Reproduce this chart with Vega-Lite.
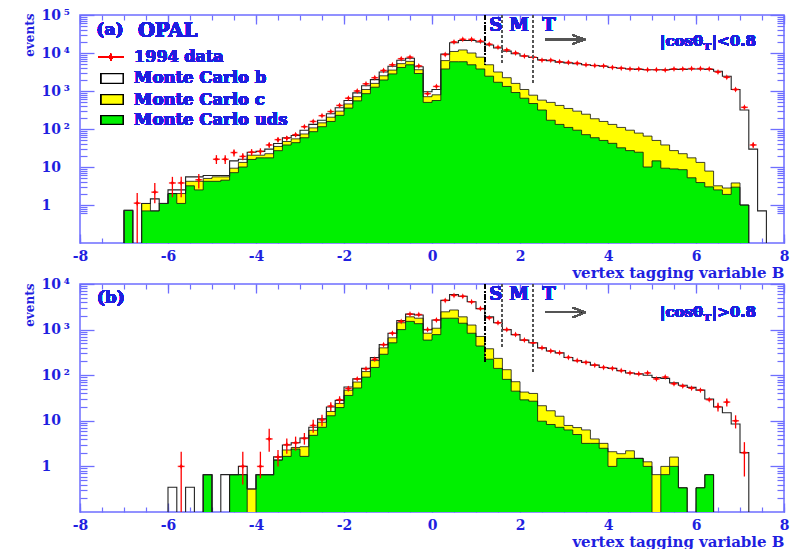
{
"$schema": "https://vega.github.io/schema/vega-lite/v6.json",
"background": "white",
"padding": {"left": 22, "top": 7, "right": 5, "bottom": 5},
"config": {"view": {"stroke": "#6e6eff", "strokeWidth": 1.5}, "text": {"font": "DejaVu Serif", "fontWeight": "bold", "color": "#1f1fe0"}},
"datasets": {
"top": [
{"B":-7.1,"uds":0.01,"udsc":0.01,"tot":0.01},
{"B":-6.9,"uds":0.72,"udsc":0.72,"tot":0.72},
{"B":-6.7,"uds":0.01,"udsc":0.01,"tot":0.01,"d":1.12,"dlo":0.01,"dhi":2.07},
{"B":-6.5,"uds":0.7,"udsc":1.1,"tot":1.1},
{"B":-6.3,"uds":0.7,"udsc":0.7,"tot":1.45,"d":2.18,"dlo":1.12,"dhi":3.8},
{"B":-6.1,"uds":1.1,"udsc":1.1,"tot":1.1},
{"B":-5.9,"uds":2.0,"udsc":2.0,"tot":2.5,"d":3.8,"dlo":1.6,"dhi":5.5},
{"B":-5.7,"uds":1.1,"udsc":2.0,"tot":2.5,"d":3.8,"dlo":1.6,"dhi":5.5},
{"B":-5.5,"uds":3.2,"udsc":4.2,"tot":5.5},
{"B":-5.3,"uds":2.5,"udsc":4.2,"tot":5.5,"d":4.6,"dlo":2.7,"dhi":6.5},
{"B":-5.1,"uds":4.2,"udsc":5.0,"tot":6.0},
{"B":-4.9,"uds":4.2,"udsc":5.5,"tot":6.0,"d":16,"dlo":12,"dhi":20.5},
{"B":-4.7,"uds":4.5,"udsc":5.5,"tot":6.0,"d":16,"dlo":12,"dhi":20.5},
{"B":-4.5,"uds":7.1,"udsc":9.3,"tot":14.5,"d":24,"dlo":19,"dhi":29},
{"B":-4.3,"uds":10,"udsc":13.2,"tot":16,"d":19,"dlo":15,"dhi":23},
{"B":-4.1,"uds":15.8,"udsc":20.4,"tot":24.5,"d":24.5,"dlo":20,"dhi":29.5},
{"B":-3.9,"uds":17.4,"udsc":20.4,"tot":25.7,"d":25.7,"dlo":21,"dhi":31},
{"B":-3.7,"uds":17.4,"udsc":22.4,"tot":29.5,"d":38,"dlo":32,"dhi":44},
{"B":-3.5,"uds":26.9,"udsc":34.7,"tot":41.7,"d":52.5,"dlo":45,"dhi":60},
{"B":-3.3,"uds":38,"udsc":46.8,"tot":58.9,"d":57.5,"dlo":50,"dhi":65},
{"B":-3.1,"uds":43.7,"udsc":55,"tot":67.6,"d":70.8,"dlo":62,"dhi":79},
{"B":-2.9,"uds":58.9,"udsc":74,"tot":93,"d":115},
{"B":-2.7,"uds":85,"udsc":107,"tot":132,"d":158},
{"B":-2.5,"uds":115,"udsc":145,"tot":170,"d":224},
{"B":-2.3,"uds":158,"udsc":204,"tot":251,"d":288},
{"B":-2.1,"uds":229,"udsc":295,"tot":363,"d":417},
{"B":-1.9,"uds":355,"udsc":457,"tot":562,"d":646},
{"B":-1.7,"uds":550,"udsc":708,"tot":891,"d":1000},
{"B":-1.5,"uds":851,"udsc":1096,"tot":1380,"d":1549},
{"B":-1.3,"uds":1259,"udsc":1585,"tot":1995,"d":2239},
{"B":-1.1,"uds":1950,"udsc":2512,"tot":3162,"d":3467},
{"B":-0.9,"uds":2818,"udsc":3548,"tot":4467,"d":4898},
{"B":-0.7,"uds":4169,"udsc":5248,"tot":6457,"d":7079},
{"B":-0.5,"uds":4898,"udsc":6026,"tot":7244,"d":7762},
{"B":-0.3,"uds":2884,"udsc":3631,"tot":4365,"d":4571},
{"B":-0.1,"uds":501,"udsc":708,"tot":955,"d":851},
{"B":0.1,"uds":562,"udsc":794,"tot":1096,"d":1318},
{"B":0.3,"uds":3802,"udsc":6310,"tot":9333,"d":9120},
{"B":0.5,"uds":5888,"udsc":10965,"tot":18621,"d":19498},
{"B":0.7,"uds":5888,"udsc":12023,"tot":21380,"d":22909},
{"B":0.9,"uds":4898,"udsc":10000,"tot":21380,"d":22909},
{"B":1.1,"uds":3802,"udsc":7762,"tot":19498,"d":20417},
{"B":1.3,"uds":2455,"udsc":4898,"tot":16218,"d":16982},
{"B":1.5,"uds":1698,"udsc":3162,"tot":13490,"d":14125},
{"B":1.7,"uds":1318,"udsc":2239,"tot":11220,"d":12023},
{"B":1.9,"uds":912,"udsc":1585,"tot":9550,"d":10000},
{"B":2.1,"uds":646,"udsc":1096,"tot":8318,"d":8318},
{"B":2.3,"uds":468,"udsc":776,"tot":7586,"d":7762},
{"B":2.5,"uds":316,"udsc":575,"tot":6607,"d":6457},
{"B":2.7,"uds":170,"udsc":501,"tot":6310,"d":6457},
{"B":2.9,"uds":132,"udsc":417,"tot":5754,"d":5888},
{"B":3.1,"uds":110,"udsc":347,"tot":5495,"d":5623},
{"B":3.3,"uds":93,"udsc":295,"tot":5248,"d":5370},
{"B":3.5,"uds":71,"udsc":245,"tot":4898,"d":4898},
{"B":3.7,"uds":59,"udsc":186,"tot":4677,"d":4677},
{"B":3.9,"uds":50,"udsc":158,"tot":4467,"d":4571},
{"B":4.1,"uds":42,"udsc":132,"tot":4169,"d":4169},
{"B":4.3,"uds":32,"udsc":110,"tot":3981,"d":3981},
{"B":4.5,"uds":27,"udsc":93,"tot":3802,"d":3802},
{"B":4.7,"uds":24.5,"udsc":78,"tot":3715,"d":3802},
{"B":4.9,"uds":10,"udsc":65,"tot":3631,"d":3631},
{"B":5.1,"uds":14.5,"udsc":50,"tot":3631,"d":3631},
{"B":5.3,"uds":9.3,"udsc":38,"tot":3631,"d":3548},
{"B":5.5,"uds":8.9,"udsc":27,"tot":3715,"d":3802},
{"B":5.7,"uds":8.5,"udsc":22.4,"tot":3715,"d":3802},
{"B":5.9,"uds":5.2,"udsc":17.4,"tot":3802,"d":3890},
{"B":6.1,"uds":3.9,"udsc":13.2,"tot":3802,"d":3890},
{"B":6.3,"uds":3.0,"udsc":7.8,"tot":3715,"d":3802},
{"B":6.5,"uds":2.5,"udsc":3.2,"tot":3311,"d":3162},
{"B":6.7,"uds":1.9,"udsc":2.8,"tot":2455,"d":2291},
{"B":6.9,"uds":2.95,"udsc":3.8,"tot":1096,"d":1096},
{"B":7.1,"uds":1.0,"udsc":1.0,"tot":316,"d":372},
{"B":7.3,"uds":0.01,"udsc":0.01,"tot":29.5,"d":38,"dlo":32,"dhi":44},
{"B":7.5,"uds":0.01,"udsc":0.01,"tot":0.7},
{"B":7.7,"uds":0.01,"udsc":0.01,"tot":0.01}
],
"bottom": [
{"B":-6.1,"uds":0.01,"udsc":0.01,"tot":0.01},
{"B":-5.9,"uds":0.01,"udsc":0.01,"tot":0.35},
{"B":-5.7,"uds":0.01,"udsc":0.01,"tot":0.01,"d":1,"dlo":0.01,"dhi":2.1},
{"B":-5.5,"uds":0.01,"udsc":0.01,"tot":0.35},
{"B":-5.3,"uds":0.01,"udsc":0.01,"tot":0.01},
{"B":-5.1,"uds":0.66,"udsc":0.66,"tot":0.66},
{"B":-4.9,"uds":0.01,"udsc":0.01,"tot":0.01},
{"B":-4.7,"uds":0.01,"udsc":0.01,"tot":0.66},
{"B":-4.5,"uds":0.66,"udsc":0.66,"tot":0.66},
{"B":-4.3,"uds":0.66,"udsc":0.66,"tot":1.0,"d":1,"dlo":0.4,"dhi":2.1},
{"B":-4.1,"uds":0.01,"udsc":0.32,"tot":0.32},
{"B":-3.9,"uds":0.66,"udsc":0.66,"tot":0.66,"d":1,"dlo":0.55,"dhi":2.1},
{"B":-3.7,"uds":0.66,"udsc":0.66,"tot":0.66,"d":4,"dlo":2.1,"dhi":6.7},
{"B":-3.5,"uds":1.38,"udsc":1.38,"tot":1.62,"d":1.6,"dlo":1.0,"dhi":2.3},
{"B":-3.3,"uds":1.66,"udsc":2.29,"tot":2.95,"d":3.0,"dlo":1.9,"dhi":4.1},
{"B":-3.1,"uds":2.4,"udsc":2.6,"tot":3.3,"d":3.3,"dlo":2.2,"dhi":4.5},
{"B":-2.9,"uds":1.66,"udsc":2.7,"tot":4.2,"d":4.1,"dlo":3.0,"dhi":5.4},
{"B":-2.7,"uds":4.8,"udsc":6.2,"tot":7.2,"d":7.9,"dlo":5.5,"dhi":10.5},
{"B":-2.5,"uds":7.2,"udsc":9.3,"tot":11,"d":10.5,"dlo":7.6,"dhi":13.5},
{"B":-2.3,"uds":12.9,"udsc":16,"tot":20,"d":21,"dlo":16.5,"dhi":25.5},
{"B":-2.1,"uds":19.5,"udsc":24,"tot":28,"d":29,"dlo":23.5,"dhi":34.5},
{"B":-1.9,"uds":36,"udsc":46.8,"tot":55,"d":51,"dlo":44,"dhi":58},
{"B":-1.7,"uds":52.5,"udsc":70.8,"tot":83,"d":83},
{"B":-1.5,"uds":91,"udsc":120,"tot":141,"d":138},
{"B":-1.3,"uds":148,"udsc":209,"tot":245,"d":224},
{"B":-1.1,"uds":288,"udsc":398,"tot":468,"d":468},
{"B":-0.9,"uds":513,"udsc":661,"tot":832,"d":832},
{"B":-0.7,"uds":1000,"udsc":1413,"tot":1585,"d":1514},
{"B":-0.5,"uds":1514,"udsc":1905,"tot":2188,"d":2188},
{"B":-0.3,"uds":1349,"udsc":1778,"tot":2089,"d":2138},
{"B":-0.1,"uds":589,"udsc":832,"tot":1000,"d":1000},
{"B":0.1,"uds":776,"udsc":1072,"tot":1622,"d":1622},
{"B":0.3,"uds":1778,"udsc":2455,"tot":4365,"d":4365},
{"B":0.5,"uds":1778,"udsc":2692,"tot":5888,"d":5623},
{"B":0.7,"uds":1380,"udsc":1905,"tot":5370,"d":5370},
{"B":0.9,"uds":832,"udsc":1259,"tot":4074,"d":4074},
{"B":1.1,"uds":437,"udsc":708,"tot":2884,"d":2884},
{"B":1.3,"uds":224,"udsc":380,"tot":1905,"d":1820},
{"B":1.5,"uds":141,"udsc":234,"tot":1413,"d":1413},
{"B":1.7,"uds":81,"udsc":132,"tot":1000,"d":1000},
{"B":1.9,"uds":44.7,"udsc":72,"tot":776,"d":776},
{"B":2.1,"uds":28.8,"udsc":42.7,"tot":589,"d":589},
{"B":2.3,"uds":26.9,"udsc":39.8,"tot":513,"d":513},
{"B":2.5,"uds":9.8,"udsc":21.4,"tot":398,"d":398},
{"B":2.7,"uds":8.3,"udsc":16.6,"tot":339,"d":339},
{"B":2.9,"uds":7.2,"udsc":12.6,"tot":309,"d":309},
{"B":3.1,"uds":6.3,"udsc":7.9,"tot":245,"d":245},
{"B":3.3,"uds":5.0,"udsc":7.1,"tot":209,"d":209},
{"B":3.5,"uds":3.2,"udsc":6.3,"tot":191,"d":191},
{"B":3.7,"uds":3.2,"udsc":4.0,"tot":166,"d":166},
{"B":3.9,"uds":2.5,"udsc":3.2,"tot":148,"d":148},
{"B":4.1,"uds":1.0,"udsc":2.1,"tot":141,"d":141},
{"B":4.3,"uds":1.5,"udsc":1.9,"tot":126,"d":126},
{"B":4.5,"uds":1.5,"udsc":2.2,"tot":112,"d":112},
{"B":4.7,"uds":1.5,"udsc":1.5,"tot":107,"d":107},
{"B":4.9,"uds":1.0,"udsc":1.26,"tot":100,"d":112},
{"B":5.1,"uds":0.01,"udsc":0.66,"tot":89,"d":83},
{"B":5.3,"uds":0.66,"udsc":1.0,"tot":85,"d":91},
{"B":5.5,"uds":1.0,"udsc":1.6,"tot":68,"d":65},
{"B":5.7,"uds":0.34,"udsc":0.34,"tot":60,"d":58},
{"B":5.9,"uds":0.01,"udsc":0.01,"tot":54,"d":52},
{"B":6.1,"uds":0.34,"udsc":0.34,"tot":47,"d":47},
{"B":6.3,"uds":0.66,"udsc":0.66,"tot":30,"d":29},
{"B":6.5,"uds":0.01,"udsc":0.01,"tot":20,"d":20.4,"dlo":16,"dhi":25},
{"B":6.7,"uds":0.01,"udsc":0.01,"tot":15,"d":25.7,"dlo":20.6,"dhi":30.8},
{"B":6.9,"uds":0.01,"udsc":0.01,"tot":8.5,"d":10,"dlo":6.8,"dhi":13.2},
{"B":7.1,"uds":0.01,"udsc":0.01,"tot":2.0,"d":2.0,"dlo":0.6,"dhi":3.4},
{"B":7.3,"uds":0.01,"udsc":0.01,"tot":0.01}
]
},
"spacing": 41,
"bounds": "flush",
"vconcat": [
{
"width": 704, "height": 228,
"data": {"name": "top"},
"resolve": {"axis": {"x": "independent", "y": "independent"}},
"layer": [
{"mark": {"type": "area", "interpolate": "step", "color": "#ffff00", "clip": true},
 "encoding": {
  "x": {"field": "B", "type": "quantitative", "scale": {"domain": [-8, 8]},
   "axis": {"orient": "bottom", "values": [-8,-6,-4,-2,0,2,4,6,8], "labelExpr": "datum.value < 0 ? '-' + (-datum.value) : '' + datum.value", "ticks": false, "domain": false, "grid": false, "labelPadding": 6, "labelFlush": false, "labelOverlap": false, "labelFont": "DejaVu Serif", "labelFontWeight": "bold", "labelFontSize": 14, "labelColor": "#1f1fe0", "title": "vertex tagging variable B", "titleFont": "DejaVu Serif", "titleFontWeight": "bold", "titleFontSize": 15, "titleColor": "#1f1fe0", "titleX": 704, "titleY": 29, "titleAlign": "right", "titleBaseline": "middle"}},
  "y": {"field": "udsc", "type": "quantitative", "scale": {"type": "log", "domain": [0.558, 100000]},
   "axis": {"orient": "left", "values": [1,10,100,1000,10000,100000], "labelExpr": "datum.value == 1 ? '\u20071' : datum.value == 10 ? '10' : datum.value == 100 ? '10\u2009²' : datum.value == 1000 ? '10\u2009³' : datum.value == 10000 ? '10\u2009⁴' : '10\u2009⁵'", "ticks": false, "domain": false, "grid": false, "labelAlign": "left", "labelPadding": 39, "labelFlush": false, "labelOverlap": false, "labelFont": "DejaVu Serif", "labelFontWeight": "bold", "labelFontSize": 14, "labelColor": "#1f1fe0", "title": "events", "titleFont": "DejaVu Serif", "titleFontWeight": "bold", "titleFontSize": 12, "titleColor": "#1f1fe0", "titleX": -51, "titleY": -2, "titleAngle": -90, "titleAlign": "right", "titleBaseline": "middle"}},
  "y2": {"datum": 0.01}}},
{"mark": {"type": "area", "interpolate": "step", "color": "#00f000", "clip": true},
 "encoding": {
  "x": {"field": "B", "type": "quantitative", "scale": {"domain": [-8, 8]},
   "axis": {"orient": "bottom", "values": [-8,-6,-4,-2,0,2,4,6,8], "labels": false, "domain": false, "grid": false, "tickSize": -9, "tickColor": "#6e6eff", "tickWidth": 1.3, "title": null}},
  "y": {"field": "uds", "type": "quantitative", "scale": {"type": "log", "domain": [0.558, 100000]},
   "axis": {"orient": "left", "values": [1,10,100,1000,10000,100000], "labels": false, "domain": false, "grid": false, "tickSize": -14, "tickColor": "#6e6eff", "tickWidth": 1.3, "title": null}},
  "y2": {"datum": 0.01}}},
{"mark": {"type": "line", "interpolate": "step", "color": "#111", "strokeWidth": 0.8, "clip": true},
 "encoding": {
  "x": {"field": "B", "type": "quantitative", "scale": {"domain": [-8, 8]},
   "axis": {"orient": "bottom", "values": [-8,-7.5,-7,-6.5,-6,-5.5,-5,-4.5,-4,-3.5,-3,-2.5,-2,-1.5,-1,-0.5,0,0.5,1,1.5,2,2.5,3,3.5,4,4.5,5,5.5,6,6.5,7,7.5,8], "labels": false, "domain": false, "grid": false, "tickSize": -5, "tickColor": "#6e6eff", "tickWidth": 1.2, "title": null}},
  "y": {"field": "udsc", "type": "quantitative", "scale": {"type": "log", "domain": [0.558, 100000]},
   "axis": {"orient": "left", "values": [0.6,0.7,0.8,0.9,2,3,4,5,6,7,8,9,20,30,40,50,60,70,80,90,200,300,400,500,600,700,800,900,2000,3000,4000,5000,6000,7000,8000,9000,20000,30000,40000,50000,60000,70000,80000,90000], "labels": false, "domain": false, "grid": false, "tickSize": -7, "tickColor": "#6e6eff", "tickWidth": 1.2, "title": null}}}},
{"mark": {"type": "line", "interpolate": "step", "color": "#111", "strokeWidth": 0.8, "clip": true},
 "encoding": {
  "x": {"field": "B", "type": "quantitative", "scale": {"domain": [-8, 8]},
   "axis": {"orient": "top", "values": [-8,-6,-4,-2,0,2,4,6,8], "labels": false, "domain": false, "grid": false, "tickSize": -9, "tickColor": "#6e6eff", "tickWidth": 1.3, "title": null}},
  "y": {"field": "uds", "type": "quantitative", "scale": {"type": "log", "domain": [0.558, 100000]},
   "axis": {"orient": "right", "values": [1,10,100,1000,10000,100000], "labels": false, "domain": false, "grid": false, "tickSize": -14, "tickColor": "#6e6eff", "tickWidth": 1.3, "title": null}}}},
{"mark": {"type": "line", "interpolate": "step", "color": "#222", "strokeWidth": 1.1, "clip": true},
 "encoding": {
  "x": {"field": "B", "type": "quantitative", "scale": {"domain": [-8, 8]},
   "axis": {"orient": "top", "values": [-8,-7.5,-7,-6.5,-6,-5.5,-5,-4.5,-4,-3.5,-3,-2.5,-2,-1.5,-1,-0.5,0,0.5,1,1.5,2,2.5,3,3.5,4,4.5,5,5.5,6,6.5,7,7.5,8], "labels": false, "domain": false, "grid": false, "tickSize": -5, "tickColor": "#6e6eff", "tickWidth": 1.2, "title": null}},
  "y": {"field": "tot", "type": "quantitative", "scale": {"type": "log", "domain": [0.558, 100000]},
   "axis": {"orient": "right", "values": [0.6,0.7,0.8,0.9,2,3,4,5,6,7,8,9,20,30,40,50,60,70,80,90,200,300,400,500,600,700,800,900,2000,3000,4000,5000,6000,7000,8000,9000,20000,30000,40000,50000,60000,70000,80000,90000], "labels": false, "domain": false, "grid": false, "tickSize": -7, "tickColor": "#6e6eff", "tickWidth": 1.2, "title": null}}}},
{"transform": [{"filter": "isValid(datum.dhi)"}],
 "mark": {"type": "rule", "color": "#ff0000", "strokeWidth": 1.3, "clip": true},
 "encoding": {
  "x": {"field": "B", "type": "quantitative", "scale": {"domain": [-8, 8]}, "axis": null},
  "y": {"field": "dlo", "type": "quantitative", "scale": {"type": "log", "domain": [0.558, 100000]}, "axis": null},
  "y2": {"field": "dhi"}}},
{"transform": [{"filter": "isValid(datum.d)"}],
 "mark": {"type": "tick", "orient": "horizontal", "size": 7, "thickness": 1.5, "color": "#ff0000", "clip": true},
 "encoding": {
  "x": {"field": "B", "type": "quantitative", "scale": {"domain": [-8, 8]}, "axis": null},
  "y": {"field": "d", "type": "quantitative", "scale": {"type": "log", "domain": [0.558, 100000]}, "axis": null}}},
{"transform": [{"filter": "isValid(datum.d)"}],
 "mark": {"type": "point", "shape": "M0,-1L0.3,-0.3L1,0L0.3,0.3L0,1L-0.3,0.3L-1,0L-0.3,-0.3Z", "size": 36, "filled": true, "color": "#ff0000", "opacity": 1, "clip": true},
 "encoding": {
  "x": {"field": "B", "type": "quantitative", "scale": {"domain": [-8, 8]}, "axis": null},
  "y": {"field": "d", "type": "quantitative", "scale": {"type": "log", "domain": [0.558, 100000]}, "axis": null}}},
{"mark": {"type": "rule", "color": "#000", "strokeWidth": 1.3, "strokeDash": [5, 2, 1.5, 2]},
 "encoding": {"x": {"datum": 1.2, "axis": null}, "y": {"datum": 100000, "axis": null}, "y2": {"datum": 4900}}},
{"mark": {"type": "rule", "color": "#555", "strokeWidth": 1, "strokeDash": [3, 2]},
 "encoding": {"x": {"datum": 1.6, "axis": null}, "y": {"datum": 100000, "axis": null}, "y2": {"datum": 4900}}},
{"mark": {"type": "rule", "color": "#555", "strokeWidth": 1, "strokeDash": [3, 2]},
 "encoding": {"x": {"datum": 2.3, "axis": null}, "y": {"datum": 100000, "axis": null}, "y2": {"datum": 1440}}},
{"mark": {"type": "text", "text": "S", "fontSize": 18, "baseline": "middle"},
 "encoding": {"x": {"datum": 1.45, "axis": null}, "y": {"datum": 52900, "axis": null}}},
{"mark": {"type": "text", "text": "M", "fontSize": 18, "baseline": "middle"},
 "encoding": {"x": {"datum": 1.98, "axis": null}, "y": {"datum": 52900, "axis": null}}},
{"mark": {"type": "text", "text": "T", "fontSize": 18, "baseline": "middle"},
 "encoding": {"x": {"datum": 2.66, "axis": null}, "y": {"datum": 52900, "axis": null}}},
{"mark": {"type": "rule", "color": "#555", "strokeWidth": 1.3},
 "encoding": {"x": {"datum": 2.57, "axis": null}, "x2": {"datum": 3.48}, "y": {"datum": 22650, "axis": null}}},
{"mark": {"type": "rule", "color": "#555", "strokeWidth": 1.3},
 "encoding": {"x": {"datum": 3.2, "axis": null}, "x2": {"datum": 3.48}, "y": {"datum": 29450, "axis": null}, "y2": {"datum": 22650}}},
{"mark": {"type": "rule", "color": "#555", "strokeWidth": 1.3},
 "encoding": {"x": {"datum": 3.2, "axis": null}, "x2": {"datum": 3.48}, "y": {"datum": 17400, "axis": null}, "y2": {"datum": 22650}}},
{"mark": {"type": "text", "text": "|cosθ", "fontSize": 15, "align": "right", "baseline": "middle"},
 "encoding": {"x": {"datum": 6.16, "axis": null}, "y": {"datum": 20400, "axis": null}}},
{"mark": {"type": "text", "text": "T", "fontSize": 10, "align": "left", "baseline": "middle", "dy": 6},
 "encoding": {"x": {"datum": 6.17, "axis": null}, "y": {"datum": 20400, "axis": null}}},
{"mark": {"type": "text", "text": "|<0.8", "fontSize": 15, "align": "left", "baseline": "middle"},
 "encoding": {"x": {"datum": 6.36, "axis": null}, "y": {"datum": 20400, "axis": null}}},
{"mark": {"type": "text", "text": "(a)", "fontSize": 17, "align": "center", "baseline": "middle"},
 "encoding": {"x": {"datum": -7.32, "axis": null}, "y": {"datum": 40700, "axis": null}}},
{"mark": {"type": "text", "text": "OPAL", "fontSize": 19.5, "align": "left", "baseline": "middle"},
 "encoding": {"x": {"datum": -6.68, "axis": null}, "y": {"datum": 38500, "axis": null}}},
{"mark": {"type": "rule", "color": "#ff0000", "strokeWidth": 1.3},
 "encoding": {"x": {"datum": -7.59, "axis": null}, "x2": {"datum": -7.0}, "y": {"datum": 7830, "axis": null}}},
{"mark": {"type": "point", "shape": "M0,-1L0.3,-0.3L1,0L0.3,0.3L0,1L-0.3,0.3L-1,0L-0.3,-0.3Z", "size": 60, "filled": true, "color": "#ff0000", "opacity": 1},
 "encoding": {"x": {"datum": -7.3, "axis": null}, "y": {"datum": 7830, "axis": null}}},
{"mark": {"type": "text", "text": "1994 data", "fontSize": 16, "align": "left", "baseline": "middle"},
 "encoding": {"x": {"datum": -6.77, "axis": null}, "y": {"datum": 7830, "axis": null}}},
{"mark": {"type": "rect", "fill": "#ffffff", "stroke": "#000", "strokeWidth": 1.3},
 "encoding": {"x": {"datum": -7.52, "axis": null}, "x2": {"datum": -7.02}, "y": {"datum": 2860, "axis": null}, "y2": {"datum": 1596}}},
{"mark": {"type": "text", "text": "Monte Carlo b", "fontSize": 16.5, "align": "left", "baseline": "middle"},
 "encoding": {"x": {"datum": -6.77, "axis": null}, "y": {"datum": 2193, "axis": null}}},
{"mark": {"type": "rect", "fill": "#ffff00", "stroke": "#000", "strokeWidth": 1.3},
 "encoding": {"x": {"datum": -7.52, "axis": null}, "x2": {"datum": -7.02}, "y": {"datum": 800, "axis": null}, "y2": {"datum": 446}}},
{"mark": {"type": "text", "text": "Monte Carlo c", "fontSize": 16.5, "align": "left", "baseline": "middle"},
 "encoding": {"x": {"datum": -6.77, "axis": null}, "y": {"datum": 582, "axis": null}}},
{"mark": {"type": "rect", "fill": "#00f000", "stroke": "#000", "strokeWidth": 1.3},
 "encoding": {"x": {"datum": -7.52, "axis": null}, "x2": {"datum": -7.02}, "y": {"datum": 224, "axis": null}, "y2": {"datum": 132}}},
{"mark": {"type": "text", "text": "Monte Carlo uds", "fontSize": 16.5, "align": "left", "baseline": "middle"},
 "encoding": {"x": {"datum": -6.77, "axis": null}, "y": {"datum": 172, "axis": null}}}
]
},
{
"width": 704, "height": 228,
"data": {"name": "bottom"},
"resolve": {"axis": {"x": "independent", "y": "independent"}},
"layer": [
{"mark": {"type": "area", "interpolate": "step", "color": "#ffff00", "clip": true},
 "encoding": {
  "x": {"field": "B", "type": "quantitative", "scale": {"domain": [-8, 8]},
   "axis": {"orient": "bottom", "values": [-8,-6,-4,-2,0,2,4,6,8], "labelExpr": "datum.value < 0 ? '-' + (-datum.value) : '' + datum.value", "ticks": false, "domain": false, "grid": false, "labelPadding": 6, "labelFlush": false, "labelOverlap": false, "labelFont": "DejaVu Serif", "labelFontWeight": "bold", "labelFontSize": 14, "labelColor": "#1f1fe0", "title": "vertex tagging variable B", "titleFont": "DejaVu Serif", "titleFontWeight": "bold", "titleFontSize": 15, "titleColor": "#1f1fe0", "titleX": 704, "titleY": 29, "titleAlign": "right", "titleBaseline": "middle"}},
  "y": {"field": "udsc", "type": "quantitative", "scale": {"type": "log", "domain": [0.125, 10000]},
   "axis": {"orient": "left", "values": [1,10,100,1000,10000], "labelExpr": "datum.value == 1 ? '\u20071' : datum.value == 10 ? '10' : datum.value == 100 ? '10\u2009²' : datum.value == 1000 ? '10\u2009³' : '10\u2009⁴'", "ticks": false, "domain": false, "grid": false, "labelAlign": "left", "labelPadding": 39, "labelFlush": false, "labelOverlap": false, "labelFont": "DejaVu Serif", "labelFontWeight": "bold", "labelFontSize": 14, "labelColor": "#1f1fe0", "title": "events", "titleFont": "DejaVu Serif", "titleFontWeight": "bold", "titleFontSize": 12, "titleColor": "#1f1fe0", "titleX": -51, "titleY": -1, "titleAngle": -90, "titleAlign": "right", "titleBaseline": "middle"}},
  "y2": {"datum": 0.01}}},
{"mark": {"type": "area", "interpolate": "step", "color": "#00f000", "clip": true},
 "encoding": {
  "x": {"field": "B", "type": "quantitative", "scale": {"domain": [-8, 8]},
   "axis": {"orient": "bottom", "values": [-8,-6,-4,-2,0,2,4,6,8], "labels": false, "domain": false, "grid": false, "tickSize": -9, "tickColor": "#6e6eff", "tickWidth": 1.3, "title": null}},
  "y": {"field": "uds", "type": "quantitative", "scale": {"type": "log", "domain": [0.125, 10000]},
   "axis": {"orient": "left", "values": [1,10,100,1000,10000], "labels": false, "domain": false, "grid": false, "tickSize": -14, "tickColor": "#6e6eff", "tickWidth": 1.3, "title": null}},
  "y2": {"datum": 0.01}}},
{"mark": {"type": "line", "interpolate": "step", "color": "#111", "strokeWidth": 0.8, "clip": true},
 "encoding": {
  "x": {"field": "B", "type": "quantitative", "scale": {"domain": [-8, 8]},
   "axis": {"orient": "bottom", "values": [-8,-7.5,-7,-6.5,-6,-5.5,-5,-4.5,-4,-3.5,-3,-2.5,-2,-1.5,-1,-0.5,0,0.5,1,1.5,2,2.5,3,3.5,4,4.5,5,5.5,6,6.5,7,7.5,8], "labels": false, "domain": false, "grid": false, "tickSize": -5, "tickColor": "#6e6eff", "tickWidth": 1.2, "title": null}},
  "y": {"field": "udsc", "type": "quantitative", "scale": {"type": "log", "domain": [0.125, 10000]},
   "axis": {"orient": "left", "values": [0.2,0.3,0.4,0.5,0.6,0.7,0.8,0.9,2,3,4,5,6,7,8,9,20,30,40,50,60,70,80,90,200,300,400,500,600,700,800,900,2000,3000,4000,5000,6000,7000,8000,9000], "labels": false, "domain": false, "grid": false, "tickSize": -7, "tickColor": "#6e6eff", "tickWidth": 1.2, "title": null}}}},
{"mark": {"type": "line", "interpolate": "step", "color": "#111", "strokeWidth": 0.8, "clip": true},
 "encoding": {
  "x": {"field": "B", "type": "quantitative", "scale": {"domain": [-8, 8]},
   "axis": {"orient": "top", "values": [-8,-6,-4,-2,0,2,4,6,8], "labels": false, "domain": false, "grid": false, "tickSize": -9, "tickColor": "#6e6eff", "tickWidth": 1.3, "title": null}},
  "y": {"field": "uds", "type": "quantitative", "scale": {"type": "log", "domain": [0.125, 10000]},
   "axis": {"orient": "right", "values": [1,10,100,1000,10000], "labels": false, "domain": false, "grid": false, "tickSize": -14, "tickColor": "#6e6eff", "tickWidth": 1.3, "title": null}}}},
{"mark": {"type": "line", "interpolate": "step", "color": "#222", "strokeWidth": 1.1, "clip": true},
 "encoding": {
  "x": {"field": "B", "type": "quantitative", "scale": {"domain": [-8, 8]},
   "axis": {"orient": "top", "values": [-8,-7.5,-7,-6.5,-6,-5.5,-5,-4.5,-4,-3.5,-3,-2.5,-2,-1.5,-1,-0.5,0,0.5,1,1.5,2,2.5,3,3.5,4,4.5,5,5.5,6,6.5,7,7.5,8], "labels": false, "domain": false, "grid": false, "tickSize": -5, "tickColor": "#6e6eff", "tickWidth": 1.2, "title": null}},
  "y": {"field": "tot", "type": "quantitative", "scale": {"type": "log", "domain": [0.125, 10000]},
   "axis": {"orient": "right", "values": [0.2,0.3,0.4,0.5,0.6,0.7,0.8,0.9,2,3,4,5,6,7,8,9,20,30,40,50,60,70,80,90,200,300,400,500,600,700,800,900,2000,3000,4000,5000,6000,7000,8000,9000], "labels": false, "domain": false, "grid": false, "tickSize": -7, "tickColor": "#6e6eff", "tickWidth": 1.2, "title": null}}}},
{"transform": [{"filter": "isValid(datum.dhi)"}],
 "mark": {"type": "rule", "color": "#ff0000", "strokeWidth": 1.3, "clip": true},
 "encoding": {
  "x": {"field": "B", "type": "quantitative", "scale": {"domain": [-8, 8]}, "axis": null},
  "y": {"field": "dlo", "type": "quantitative", "scale": {"type": "log", "domain": [0.125, 10000]}, "axis": null},
  "y2": {"field": "dhi"}}},
{"transform": [{"filter": "isValid(datum.d)"}],
 "mark": {"type": "tick", "orient": "horizontal", "size": 7, "thickness": 1.5, "color": "#ff0000", "clip": true},
 "encoding": {
  "x": {"field": "B", "type": "quantitative", "scale": {"domain": [-8, 8]}, "axis": null},
  "y": {"field": "d", "type": "quantitative", "scale": {"type": "log", "domain": [0.125, 10000]}, "axis": null}}},
{"transform": [{"filter": "isValid(datum.d)"}],
 "mark": {"type": "point", "shape": "M0,-1L0.3,-0.3L1,0L0.3,0.3L0,1L-0.3,0.3L-1,0L-0.3,-0.3Z", "size": 36, "filled": true, "color": "#ff0000", "opacity": 1, "clip": true},
 "encoding": {
  "x": {"field": "B", "type": "quantitative", "scale": {"domain": [-8, 8]}, "axis": null},
  "y": {"field": "d", "type": "quantitative", "scale": {"type": "log", "domain": [0.125, 10000]}, "axis": null}}},
{"mark": {"type": "rule", "color": "#000", "strokeWidth": 1.3, "strokeDash": [5, 2, 1.5, 2]},
 "encoding": {"x": {"datum": 1.2, "axis": null}, "y": {"datum": 10000, "axis": null}, "y2": {"datum": 200}}},
{"mark": {"type": "rule", "color": "#555", "strokeWidth": 1, "strokeDash": [3, 2]},
 "encoding": {"x": {"datum": 1.6, "axis": null}, "y": {"datum": 10000, "axis": null}, "y2": {"datum": 380}}},
{"mark": {"type": "rule", "color": "#555", "strokeWidth": 1, "strokeDash": [3, 2]},
 "encoding": {"x": {"datum": 2.3, "axis": null}, "y": {"datum": 10000, "axis": null}, "y2": {"datum": 122}}},
{"mark": {"type": "text", "text": "S", "fontSize": 18, "baseline": "middle"},
 "encoding": {"x": {"datum": 1.45, "axis": null}, "y": {"datum": 5800, "axis": null}}},
{"mark": {"type": "text", "text": "M", "fontSize": 18, "baseline": "middle"},
 "encoding": {"x": {"datum": 1.98, "axis": null}, "y": {"datum": 5800, "axis": null}}},
{"mark": {"type": "text", "text": "T", "fontSize": 18, "baseline": "middle"},
 "encoding": {"x": {"datum": 2.66, "axis": null}, "y": {"datum": 5800, "axis": null}}},
{"mark": {"type": "rule", "color": "#555", "strokeWidth": 1.3},
 "encoding": {"x": {"datum": 2.57, "axis": null}, "x2": {"datum": 3.48}, "y": {"datum": 2377, "axis": null}}},
{"mark": {"type": "rule", "color": "#555", "strokeWidth": 1.3},
 "encoding": {"x": {"datum": 3.2, "axis": null}, "x2": {"datum": 3.48}, "y": {"datum": 3045, "axis": null}, "y2": {"datum": 2377}}},
{"mark": {"type": "rule", "color": "#555", "strokeWidth": 1.3},
 "encoding": {"x": {"datum": 3.2, "axis": null}, "x2": {"datum": 3.48}, "y": {"datum": 1855, "axis": null}, "y2": {"datum": 2377}}},
{"mark": {"type": "text", "text": "|cosθ", "fontSize": 15, "align": "right", "baseline": "middle"},
 "encoding": {"x": {"datum": 6.16, "axis": null}, "y": {"datum": 2377, "axis": null}}},
{"mark": {"type": "text", "text": "T", "fontSize": 10, "align": "left", "baseline": "middle", "dy": 6},
 "encoding": {"x": {"datum": 6.17, "axis": null}, "y": {"datum": 2377, "axis": null}}},
{"mark": {"type": "text", "text": "|>0.8", "fontSize": 15, "align": "left", "baseline": "middle"},
 "encoding": {"x": {"datum": 6.36, "axis": null}, "y": {"datum": 2377, "axis": null}}},
{"mark": {"type": "text", "text": "(b)", "fontSize": 17, "align": "center", "baseline": "middle"},
 "encoding": {"x": {"datum": -7.3, "axis": null}, "y": {"datum": 5000, "axis": null}}}
]
}
]
}
